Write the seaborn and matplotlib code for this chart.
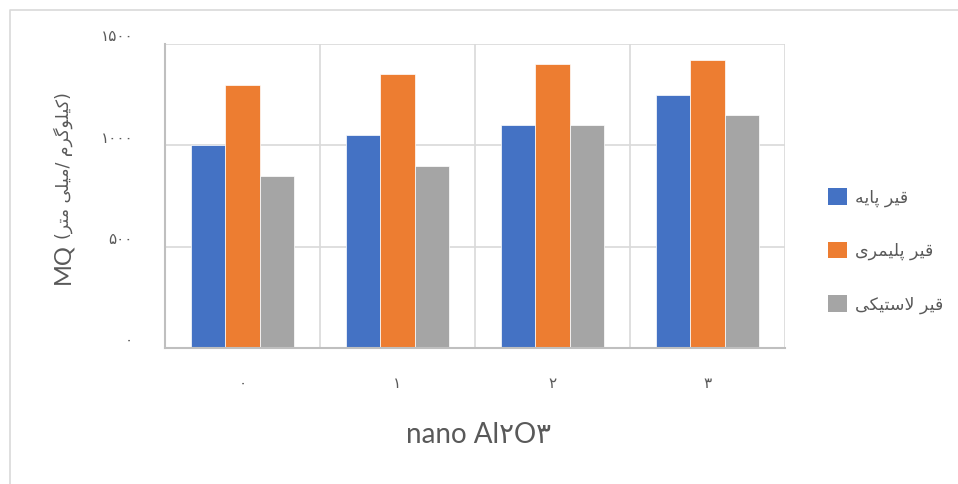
import matplotlib
matplotlib.use("Agg")
import matplotlib.pyplot as plt
from matplotlib.patches import Patch
import matplotlib.transforms as mtransforms
import seaborn as sns
import pandas as pd

# ---------------- data ----------------
nano_levels = ["۰", "۱", "۲", "۳"]
series_names = ["قیر پایه", "قیر پلیمری", "قیر لاستیکی"]
base_bitumen = [1000, 1050, 1100, 1250]
polymer_bitumen = [1300, 1350, 1400, 1420]
rubber_bitumen = [850, 900, 1100, 1150]
y_ticks = [0, 500, 1000, 1500]
x_label = "nano Al۲O۳"
y_label_latin = "MQ"
y_label_fa = "کیلوگرم /میلی متر"
colors = ["#4472C4", "#ED7D31", "#A5A5A5"]

# ------------- minimal Persian shaping (matplotlib has no complex text layout) -------------
FORMS = {
    "\u0627": ("\uFE8D", "\uFE8E", None, None),
    "\u0631": ("\uFEAD", "\uFEAE", None, None),
    "\u0648": ("\uFEED", "\uFEEE", None, None),
    "\u062A": ("\uFE95", "\uFE96", "\uFE97", "\uFE98"),
    "\u0633": ("\uFEB1", "\uFEB2", "\uFEB3", "\uFEB4"),
    "\u0642": ("\uFED5", "\uFED6", "\uFED7", "\uFED8"),
    "\u0644": ("\uFEDD", "\uFEDE", "\uFEDF", "\uFEE0"),
    "\u0645": ("\uFEE1", "\uFEE2", "\uFEE3", "\uFEE4"),
    "\u0647": ("\uFEE9", "\uFEEA", "\uFEEB", "\uFEEC"),
    "\u067E": ("\uFB56", "\uFB57", "\uFB58", "\uFB59"),
    "\u06A9": ("\uFB8E", "\uFB8F", "\uFB90", "\uFB91"),
    "\u06AF": ("\uFB92", "\uFB93", "\uFB94", "\uFB95"),
    "\u06CC": ("\uFBFC", "\uFBFD", "\uFBFE", "\uFBFF"),
}


def _dual(c):
    return c in FORMS and FORMS[c][2] is not None


def shape(s):
    out, i, n = [], 0, len(s)
    while i < n:
        c = s[i]
        prev = s[i - 1] if i > 0 else None
        conn_prev = prev is not None and _dual(prev)
        if c == "\u0644" and i + 1 < n and s[i + 1] == "\u0627":
            out.append("\uFEFC" if conn_prev else "\uFEFB")
            i += 2
            continue
        if c not in FORMS:
            out.append(c)
            i += 1
            continue
        nxt = s[i + 1] if i + 1 < n else None
        conn_next = _dual(c) and nxt is not None and nxt in FORMS
        iso, fin, ini, med = FORMS[c]
        if conn_prev and conn_next:
            out.append(med)
        elif conn_prev:
            out.append(fin)
        elif conn_next:
            out.append(ini)
        else:
            out.append(iso)
        i += 1
    return "".join(out)


def vis(s):
    return shape(s)[::-1]


def fa_digits(v):
    return str(v).translate(str.maketrans("0123456789", "۰۱۲۳۴۵۶۷۸۹"))


# ---------------- figure ----------------
W, H = 958, 484
sns.set_theme(style="white")
plt.rcParams["font.family"] = ["Lato", "DejaVu Sans"]
text_color = "#595959"

fig = plt.figure(figsize=(W / 100, H / 100), dpi=100)
ax = fig.add_axes([165 / W, 1 - 348 / H, (785 - 165) / W, (348 - 44) / H])

df = pd.DataFrame({
    "level": nano_levels * 3,
    "series": [series_names[0]] * 4 + [series_names[1]] * 4 + [series_names[2]] * 4,
    "value": base_bitumen + polymer_bitumen + rubber_bitumen,
})

sns.barplot(data=df, x="level", y="value", hue="series", order=nano_levels,
            hue_order=series_names, palette=colors, width=0.67, gap=0,
            edgecolor="white", linewidth=0.5, saturation=1, ax=ax, legend=False,
            zorder=3)

ax.set_xlim(-0.5, 3.5)
ax.set_ylim(0, 1500)
ax.set_yticks(y_ticks)
ax.set_yticklabels([fa_digits(v) for v in y_ticks], color=text_color, fontsize=11,
                   family=["DejaVu Sans"])
ax.set_xticks(range(len(nano_levels)))
ax.set_xticklabels(nano_levels, color=text_color, fontsize=11, family=["DejaVu Sans"])
ax.set_xticks([-0.5, 0.5, 1.5, 2.5, 3.5], minor=True)
ax.tick_params(axis="both", which="both", length=0)
ax.tick_params(axis="y", pad=23)
ax.tick_params(axis="x", pad=20)
for lab in ax.get_yticklabels():
    lab.set_verticalalignment("baseline")
    lab.set_transform(lab.get_transform() +
                      mtransforms.ScaledTranslation(0, 2 / 72, fig.dpi_scale_trans))
ax.grid(axis="y", which="major", color="#D9D9D9", linewidth=1.2, zorder=0)
ax.grid(axis="x", which="minor", color="#D9D9D9", linewidth=1.2, zorder=0)
ax.set_axisbelow(True)
ax.set_xlabel("")
ax.set_ylabel("")
for side in ["top", "right"]:
    ax.spines[side].set_visible(False)
for side in ["left", "bottom"]:
    ax.spines[side].set_color("#BFBFBF")
    ax.spines[side].set_linewidth(1.5)
    ax.spines[side].set_zorder(4)

# x label
fig.text(478 / W, 1 - 443 / H, x_label, ha="center", va="baseline",
         fontsize=20, color=text_color)

# y label: large "MQ" plus smaller Persian unit, rotated
renderer = fig.canvas.get_renderer()
t1 = fig.text(69 / W, 1 - 284 / H, y_label_latin, rotation=90, rotation_mode="anchor",
              ha="left", va="baseline", fontsize=17, color=text_color)
bb = t1.get_window_extent(renderer)
top_px = bb.y1 + 4
fig.text(69 / W, top_px / H, "(" + vis(y_label_fa) + ")", rotation=90,
         rotation_mode="anchor", ha="left", va="baseline", fontsize=12.5,
         color=text_color, family=["DejaVu Sans"])

# legend
handles = [Patch(facecolor=c, edgecolor="none") for c in colors]
fig.legend(handles, [vis(s) for s in series_names], loc="center left",
           bbox_to_anchor=(828 / W, 1 - 251 / H), bbox_transform=fig.transFigure,
           frameon=False, handlelength=1.1, handleheight=1.1, handletextpad=0.45,
           labelspacing=2.0, borderpad=0, borderaxespad=0,
           labelcolor=text_color, prop={"family": ["DejaVu Sans"], "size": 12.5})

# outer chart border
fig.add_artist(plt.Line2D([10 / W, 10 / W, 1.0], [0.0, 1 - 10 / H, 1 - 10 / H],
                          transform=fig.transFigure, color="#D9D9D9", linewidth=1.2))

fig.savefig("out.png", dpi=100)
